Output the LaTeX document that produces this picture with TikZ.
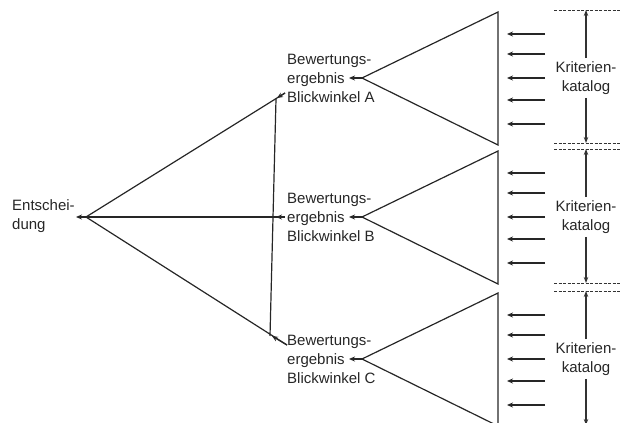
\documentclass[tikz,border=0pt]{standalone}
\usepackage{fontspec}
\setmainfont{Liberation Sans}
\usetikzlibrary{arrows.meta}
\begin{document}
\begin{tikzpicture}[x=1pt,y=-1pt,
  line/.style={line width=1.2pt, draw=black!85},
  tip/.style={line width=1.2pt, draw=black!85, -{Stealth[length=6pt,width=5pt]}},
  lbl/.style={font=\fontsize{15}{19}\selectfont, align=left, inner sep=0pt, anchor=west, text=black!85},
  klbl/.style={font=\fontsize{15}{19.5}\selectfont, align=center, inner sep=3pt, text=black!85},
  dashline/.style={line width=0.9pt, draw=black!80, dash pattern=on 3pt off 1.5pt},
  dim/.style={line width=1.1pt, draw=black!80, -{Stealth[length=6pt,width=4.5pt]}}
]
\useasboundingbox (0,0) rectangle (627,423);
\clip (0,0) rectangle (627,423);

% decision
\node[lbl] (ent) at (12,216) {Entschei-\\dung};
\coordinate (D) at (86,217);
\coordinate (Dtip) at (76,217);
\draw[tip] (D) -- (Dtip);

% results
\node[lbl] (rA) at (287,78) {Bewertungs-\\ergebnis\\Blickwinkel A};
\node[lbl] (rB) at (287,217) {Bewertungs-\\ergebnis\\Blickwinkel B};
\node[lbl] (rC) at (287,359) {Bewertungs-\\ergebnis\\Blickwinkel C};

% connectors from results to decision
\coordinate (eA) at (285,93);  \coordinate (tA) at (277,98);
\coordinate (eB) at (285,217); \coordinate (tB) at (276,217);
\coordinate (eC) at (287,345); \coordinate (tC) at (272,336);
\draw[line] (D) -- (eA);
\draw[line] (D) -- (eB);
\draw[line] (D) -- (eC);
\draw[tip] (eA) -- (tA);
\draw[tip] (eB) -- (tB);
\draw[tip] (eC) -- (tC);
\coordinate (vA) at (276,99);
\coordinate (vC) at (270,336);
\draw[line] (vA) -- (vC);

% triangles, criteria arrows, catalogues
\foreach \n/\y/\t/\b in {A/78/10/143, B/217/149/283, C/359/291/425}{
  \coordinate (ap\n) at (362,\y);
  \coordinate (at\n) at (349,\y);
  \coordinate (top\n) at (498,\y-66);
  \coordinate (bot\n) at (498,\y+67);
  \draw[line, line join=miter] (top\n) -- (ap\n) -- (bot\n) -- cycle;
  \draw[tip] (ap\n) -- (at\n);
  \foreach \o in {-44,-24,0,22,46}{
    \coordinate (cs) at (545,\y+\o);
    \coordinate (ce) at (507,\y+\o);
    \draw[tip] (cs) -- (ce);
  }
  \coordinate (dl\n) at (554,\t);
  \coordinate (dr\n) at (620,\t);
  \coordinate (el\n) at (554,\b);
  \coordinate (er\n) at (620,\b);
  \draw[dashline] (dl\n) -- (dr\n);
  \draw[dashline] (el\n) -- (er\n);
  \node[klbl] (k\n) at (586,\y) {Kriterien-\\katalog};
  \coordinate (kt\n) at (586,\t);
  \coordinate (kb\n) at (586,\b);
  \draw[dim] (k\n.north) -- (kt\n);
  \draw[dim] (k\n.south) -- (kb\n);
}
\end{tikzpicture}
\end{document}
